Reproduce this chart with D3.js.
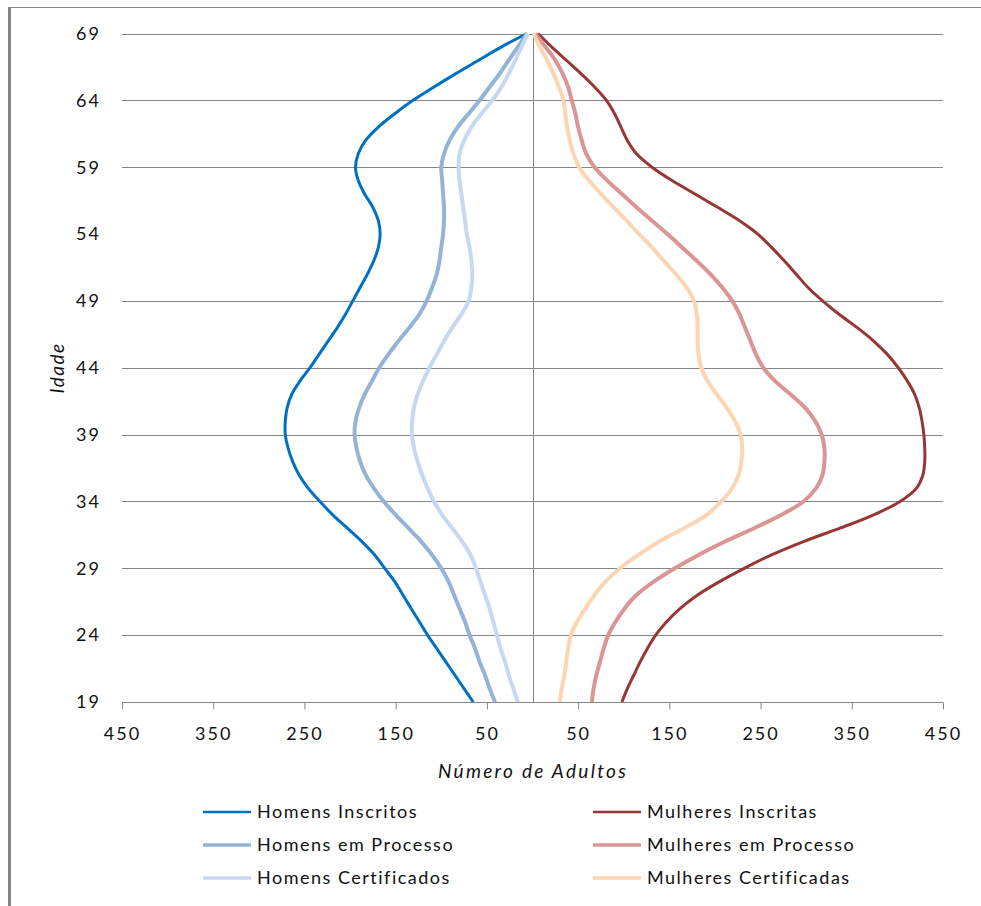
<!DOCTYPE html>
<html>
<head>
<meta charset="utf-8">
<script src="https://cdn.jsdelivr.net/npm/d3@7"></script>
<style>
  html, body { margin: 0; padding: 0; background: #fff; }
  svg { display: block; font-family: Lato, "Open Sans", sans-serif; }
</style>
</head>
<body>
<svg id="chart" width="981" height="906"></svg>
<script>
// Idade (eixo vertical)
const ages = [19,20,21,22,23,24,25,26,27,28,29,30,31,32,33,34,35,36,37,38,39,40,41,42,43,44,
              45,46,47,48,49,50,51,52,53,54,55,56,57,58,59,60,61,62,63,64,65,66,67,68,69];

// Número de adultos por idade
const homensInscritos   = [65,75,85,95,105,115,124,133,142,151,162,173,187,203,219,233,246,256,263,268,271,271,269,264,255,244,
                           234,224,214,205,197,189,181,174,169,167,169,175,184,191,194,191,183,169,151,131,108,84,59,34,6];
const homensProcesso    = [41,47,52,58,63,69,74,80,86,92,100,110,122,136,150,163,174,183,189,193,195,194,190,184,176,168,
                           158,147,135,124,116,110,105,102,100,98,97,97,98,99,100,97,91,82,70,58,47,36,26,16,6];
const homensCertificados = [16,21,26,30,35,39,43,47,52,57,62,68,77,88,99,108,115,121,126,130,132,132,130,126,120,113,
                           105,97,88,78,70,67,66,67,69,72,74,76,78,80,81,80,75,67,56,44,34,26,19,12,5];
const mulheresInscritas = [98,104,111,118,126,135,147,162,181,205,232,262,297,337,374,403,421,428,430,430,429,427,424,419,411,401,
                           389,374,356,336,318,302,289,276,262,247,227,203,178,153,131,114,104,97,90,81,68,53,37,21,6];
const mulheresProcesso  = [65,67,70,74,78,83,91,101,114,133,156,182,211,243,273,297,311,318,320,320,317,310,299,283,266,253,
                           245,239,233,227,219,208,195,180,164,148,131,114,98,82,68,59,54,50,47,43,39,33,25,14,3];
const mulheresCertificadas = [30,32,35,37,39,42,49,58,68,80,96,116,139,166,191,207,219,226,229,230,228,222,213,202,192,185,
                           182,181,181,180,177,169,157,144,131,117,103,89,75,62,51,45,41,38,36,34,29,23,16,8,1];

// Eixos
const xTicks = [-450,-350,-250,-150,-50,50,150,250,350,450];
const yTicks = [19,24,29,34,39,44,49,54,59,64,69];
const gridAges = [24,29,34,39,44,49,59,64,69];

const seriesNames  = ["Homens Inscritos","Homens em Processo","Homens Certificados",
                      "Mulheres Inscritas","Mulheres em Processo","Mulheres Certificadas"];
const seriesColors = ["#0070C0","#95B3D7","#C6D9F1","#953735","#D99694","#FCD5B4"];

const series = [
  { name: seriesNames[0], values: homensInscritos,     side: -1, color: seriesColors[0], width: 3 },
  { name: seriesNames[1], values: homensProcesso,      side: -1, color: seriesColors[1], width: 4 },
  { name: seriesNames[2], values: homensCertificados,  side: -1, color: seriesColors[2], width: 4 },
  { name: seriesNames[3], values: mulheresInscritas,   side:  1, color: seriesColors[3], width: 3 },
  { name: seriesNames[4], values: mulheresProcesso,    side:  1, color: seriesColors[4], width: 4 },
  { name: seriesNames[5], values: mulheresCertificadas,side:  1, color: seriesColors[5], width: 4 }
];

const svg = d3.select("#chart");
const grid = "#868686";

// moldura
svg.append("line").attr("x1", 8).attr("x2", 981).attr("y1", 7.5).attr("y2", 7.5)
   .attr("stroke", grid).attr("stroke-width", 1);
svg.append("line").attr("x1", 9.5).attr("x2", 9.5).attr("y1", 7).attr("y2", 906)
   .attr("stroke", grid).attr("stroke-width", 3);

const x = d3.scaleLinear().domain([-450, 450]).range([122, 943]);
const y = d3.scaleLinear().domain([19, 69]).range([702, 33.5]);

// linhas de grade horizontais
svg.append("g").selectAll("line").data(gridAges).join("line")
  .attr("x1", x(-450)).attr("x2", x(450))
  .attr("y1", d => Math.round(y(d)) + 0.5).attr("y2", d => Math.round(y(d)) + 0.5)
  .attr("stroke", grid).attr("stroke-width", 1);

// eixo vertical no zero
svg.append("line")
  .attr("x1", Math.round(x(0)) + 0.5).attr("x2", Math.round(x(0)) + 0.5)
  .attr("y1", y(69)).attr("y2", y(19))
  .attr("stroke", grid).attr("stroke-width", 1);

// eixo horizontal
const xAxis = d3.axisBottom(x).tickValues(xTicks).tickSize(7).tickPadding(18)
  .tickFormat(d => Math.abs(d));
const gx = svg.append("g").attr("transform", `translate(0,${Math.round(y(19)) + 0.5})`).call(xAxis);
gx.select(".domain").attr("stroke", grid).attr("d", `M${x(-450)},0H${x(450)}`);
gx.selectAll(".tick line").attr("stroke", grid);
gx.selectAll(".tick text").attr("fill", "#111").attr("font-size", 18)
  .attr("font-family", "Lato, sans-serif").attr("letter-spacing", 2).attr("dy", "0.72em");

// rótulos do eixo vertical
svg.append("g").selectAll("text").data(yTicks).join("text")
  .attr("x", 101).attr("y", d => y(d)).attr("dy", "0.35em")
  .attr("text-anchor", "end").attr("font-size", 18).attr("letter-spacing", 2)
  .attr("fill", "#111").text(d => d);

// curvas
const line = d3.line()
  .curve(d3.curveCatmullRom.alpha(0.5));

svg.append("g").selectAll("path").data(series).join("path")
  .attr("fill", "none")
  .attr("stroke", d => d.color)
  .attr("stroke-width", d => d.width)
  .attr("stroke-linejoin", "round")
  .attr("d", s => line(ages.map((a, i) => [x(s.side * s.values[i]), y(a)])));

// títulos dos eixos
svg.append("text").attr("x", 533).attr("y", 778).attr("text-anchor", "middle")
  .attr("font-size", 19).attr("font-style", "italic").attr("letter-spacing", 2.3)
  .attr("fill", "#111").text("Número de Adultos");
svg.append("text").attr("transform", "translate(64,368) rotate(-90)")
  .attr("text-anchor", "middle").attr("font-size", 19).attr("font-style", "italic")
  .attr("letter-spacing", 1.5).attr("fill", "#111").text("Idade");

// legenda
const legCols = [203, 593];
const legRows = [812, 845, 878];
const leg = svg.append("g").selectAll("g").data(series).join("g")
  .attr("transform", (d, i) => `translate(${legCols[Math.floor(i / 3)]},${legRows[i % 3]})`);
leg.append("line").attr("x1", 0).attr("x2", 48).attr("y1", 0).attr("y2", 0)
  .attr("stroke", d => d.color).attr("stroke-width", d => d.width - 0.5);
leg.append("text").attr("x", 54).attr("y", 0).attr("dy", "0.35em")
  .attr("font-size", 18).attr("letter-spacing", 1.5).attr("fill", "#111")
  .text(d => d.name);
</script>
</body>
</html>
